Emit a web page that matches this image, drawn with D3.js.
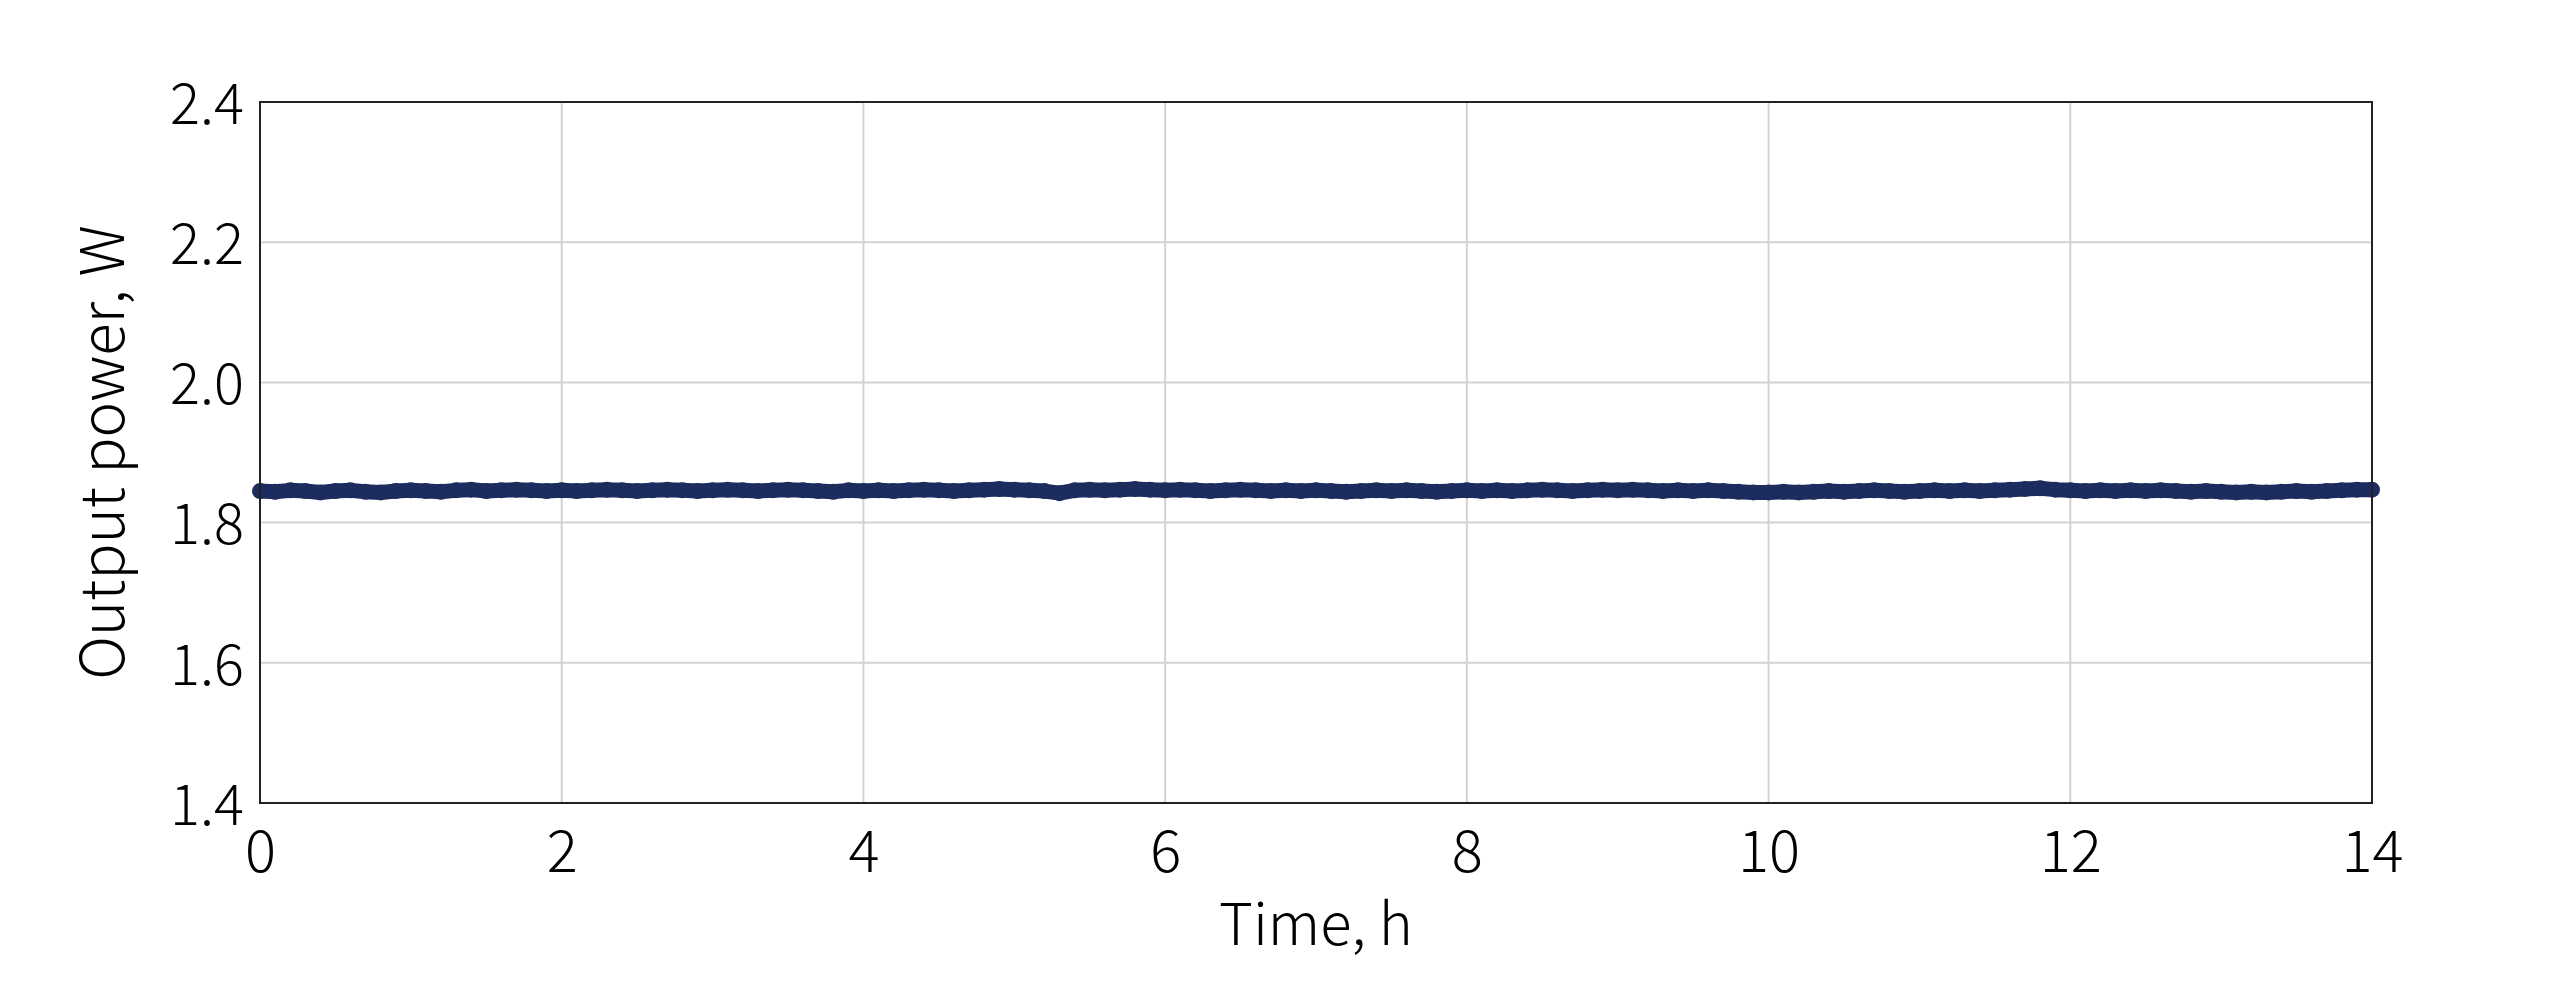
<!DOCTYPE html>
<html>
<head>
<meta charset="utf-8">
<script src="https://cdn.jsdelivr.net/npm/d3@7/dist/d3.min.js"></script>
<style>
  html, body { margin: 0; padding: 0; background: #fff; }
  svg { display: block; }
  text { font-family: "Noto Sans CJK SC", "Noto Sans", sans-serif; font-weight: 300; fill: #000; }
</style>
</head>
<body>
<svg id="chart" width="2550" height="990"></svg>
<script>
// ---- data ----
const timeStart = 0;
const timeStep = 0.1; // hours between samples
const powerValues = [
  1.845,1.844,1.846,1.845,1.843,1.845,1.846,1.844,1.843,1.845,
  1.846,1.845,1.844,1.846,1.847,1.845,1.846,1.847,1.846,1.845,
  1.846,1.845,1.846,1.847,1.846,1.845,1.846,1.847,1.846,1.845,
  1.846,1.847,1.846,1.845,1.846,1.847,1.846,1.845,1.844,1.846,
  1.845,1.846,1.845,1.846,1.847,1.846,1.845,1.846,1.847,1.848,
  1.847,1.846,1.845,1.842,1.846,1.847,1.846,1.847,1.848,1.847,
  1.846,1.847,1.846,1.845,1.846,1.847,1.846,1.845,1.846,1.845,
  1.846,1.845,1.844,1.845,1.846,1.845,1.846,1.845,1.844,1.845,
  1.846,1.845,1.846,1.845,1.846,1.847,1.846,1.845,1.846,1.847,
  1.846,1.847,1.846,1.845,1.846,1.845,1.846,1.845,1.844,1.843,
  1.843,1.844,1.843,1.844,1.845,1.844,1.845,1.846,1.845,1.844,
  1.845,1.846,1.845,1.846,1.845,1.846,1.847,1.848,1.849,1.847,
  1.846,1.845,1.846,1.845,1.846,1.845,1.846,1.845,1.844,1.845,
  1.844,1.843,1.844,1.843,1.844,1.845,1.844,1.845,1.846,1.847,1.847
];
const xTicks = [0, 2, 4, 6, 8, 10, 12, 14];
const yTicks = [1.4, 1.6, 1.8, 2.0, 2.2, 2.4];
const xDomain = [0, 14];
const yDomain = [1.4, 2.4];
const xLabel = "Time, h";
const yLabel = "Output power, W";

// ---- layout ----
const margin = { left: 260, right: 2550 - 2372, top: 102, bottom: 990 - 803 };
const W = 2550, H = 990;
const svg = d3.select("#chart");
const x = d3.scaleLinear().domain(xDomain).range([margin.left, W - margin.right]);
const y = d3.scaleLinear().domain(yDomain).range([H - margin.bottom, margin.top]);

const points = powerValues.map((v, i) => ({ t: timeStart + i * timeStep, v }));

// gridlines
const grid = svg.append("g");
grid.selectAll("line.vx").data(xTicks.slice(1, -1)).join("line")
  .attr("x1", d => x(d)).attr("x2", d => x(d))
  .attr("y1", y(yDomain[0])).attr("y2", y(yDomain[1]))
  .attr("stroke", "#d2d2d2").attr("stroke-width", 2);
grid.selectAll("line.hy").data(yTicks.slice(1, -1)).join("line")
  .attr("x1", x(xDomain[0])).attr("x2", x(xDomain[1]))
  .attr("y1", d => y(d)).attr("y2", d => y(d))
  .attr("stroke", "#d2d2d2").attr("stroke-width", 2);

// data line
const line = d3.line().x(d => x(d.t)).y(d => y(d.v)).curve(d3.curveLinear);
svg.append("path").datum(points)
  .attr("d", line)
  .attr("fill", "none")
  .attr("stroke", "#1c2c5e")
  .attr("stroke-width", 15)
  .attr("stroke-linejoin", "round")
  .attr("stroke-linecap", "butt");
svg.append("g").selectAll("circle").data(points).join("circle")
  .attr("cx", d => x(d.t)).attr("cy", d => y(d.v)).attr("r", 8)
  .attr("fill", "#1c2c5e");

// frame
svg.append("rect")
  .attr("x", x(xDomain[0])).attr("y", y(yDomain[1]))
  .attr("width", x(xDomain[1]) - x(xDomain[0]))
  .attr("height", y(yDomain[0]) - y(yDomain[1]))
  .attr("fill", "none").attr("stroke", "#222").attr("stroke-width", 2);

// axes (tick labels only, no tick marks)
const xAxis = d3.axisBottom(x).tickValues(xTicks).tickSize(0).tickPadding(0).tickFormat(d3.format("d"));
const gx = svg.append("g").attr("transform", `translate(0,${H - margin.bottom})`).call(xAxis);
gx.select(".domain").remove();
gx.selectAll("text").attr("font-size", 58).attr("dy", null).attr("y", 69)
  .style("font-family", '"Noto Sans CJK SC", "Noto Sans", sans-serif').style("font-weight", 300).attr("fill", "#000");

const yAxis = d3.axisLeft(y).tickValues(yTicks).tickSize(0).tickPadding(0).tickFormat(d3.format(".1f"));
const gy = svg.append("g").attr("transform", `translate(${margin.left},0)`).call(yAxis);
gy.select(".domain").remove();
gy.selectAll("text").attr("font-size", 56).attr("x", -16).attr("dy", "0.38em")
  .style("font-family", '"Noto Sans CJK SC", "Noto Sans", sans-serif').style("font-weight", 300).attr("fill", "#000");

// axis titles
svg.append("text")
  .attr("x", (x(xDomain[0]) + x(xDomain[1])) / 2).attr("y", 945)
  .attr("text-anchor", "middle").attr("font-size", 58)
  .text(xLabel);
svg.append("text")
  .attr("transform", `translate(124,${(y(yDomain[0]) + y(yDomain[1])) / 2}) rotate(-90)`)
  .attr("text-anchor", "middle").attr("font-size", 60)
  .text(yLabel);
</script>
</body>
</html>
